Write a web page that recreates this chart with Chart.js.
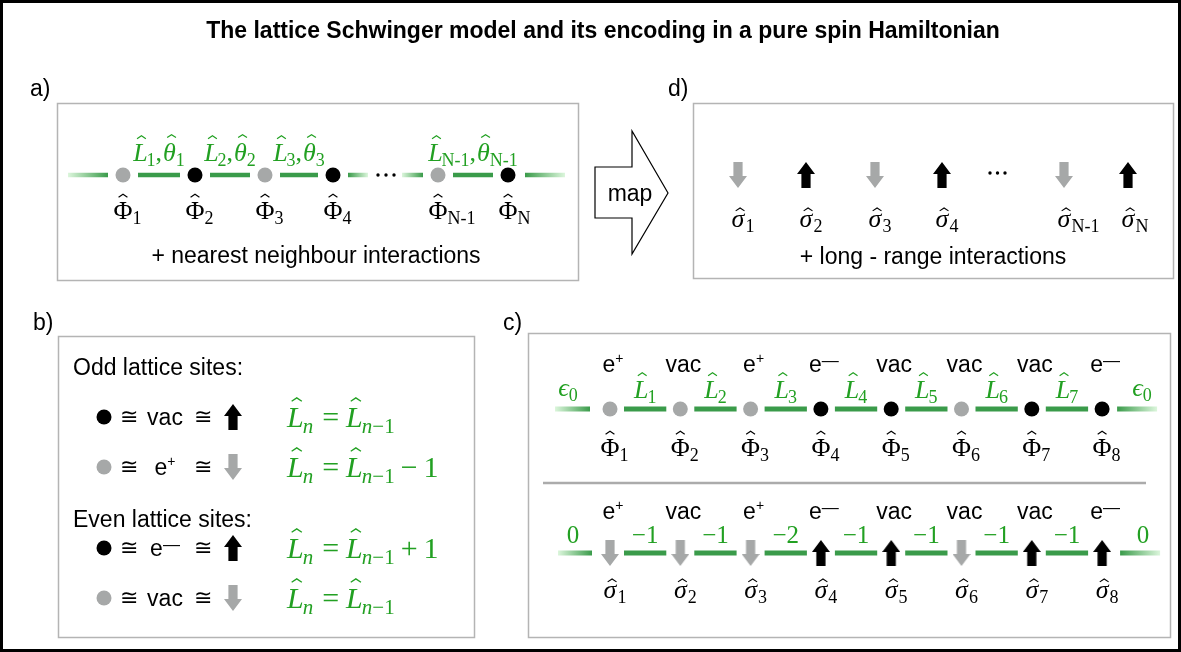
<!DOCTYPE html>
<html><head><meta charset="utf-8">
<script src="https://cdn.jsdelivr.net/npm/chart.js@4.4.0/dist/chart.umd.min.js"></script>
<style>html,body{margin:0;padding:0;background:#fff;}canvas{display:block;}</style>
</head><body>
<canvas id="c" width="1181" height="652"></canvas>
<script>
// ---------------- DATA ----------------
const titleText = 'The lattice Schwinger model and its encoding in a pure spin Hamiltonian';
const panelLetters = ['a)', 'b)', 'c)', 'd)'];
// panel a: lattice sites and links
const siteSubsA = ['1', '2', '3', '4', 'N-1', 'N'];
const siteColorsA = ['gray', 'black', 'gray', 'black', 'gray', 'black'];
const linkSubsA = ['1', '2', '3', 'N-1'];
const linkStartA = [0, 1, 2, 4];
const captionA = '+ nearest neighbour interactions';
// panel d: spins
const spinSubsD = ['1', '2', '3', '4', 'N-1', 'N'];
const spinsD = ['down', 'up', 'down', 'up', 'down', 'up'];
const captionD = '+ long - range interactions';
const mapLabel = 'map';
// panel b: mapping rules
const ruleHeaders = ['Odd lattice sites:', 'Even lattice sites:'];
const ruleSites = ['black', 'gray', 'black', 'gray'];
const ruleParticles = ['vac', 'e+', 'e−', 'vac'];
const ruleSpins = ['up', 'down', 'up', 'down'];
const ruleShifts = [0, -1, 1, 0];
// panel c: example configuration
const siteSubsC = ['1', '2', '3', '4', '5', '6', '7', '8'];
const particlesC = ['e+', 'vac', 'e+', 'e−', 'vac', 'vac', 'vac', 'e−'];
const siteColorsC = ['gray', 'gray', 'gray', 'black', 'black', 'gray', 'black', 'black'];
const spinsC = ['down', 'down', 'down', 'up', 'up', 'down', 'up', 'up'];
const linkSubsC = ['1', '2', '3', '4', '5', '6', '7'];
const electricFieldC = [0, -1, -1, -2, -1, -1, -1, -1, 0];

// ---------------- LAYOUT / STYLE ----------------
const W = 1181, H = 652;
const GREEN_LINE = '#3a9b4a', GREEN_LIGHT = '#dcf6dc', GREEN_TEXT = '#22a022';
const GRAY = '#a6a8a8', BLACK = '#000000', BOX = '#b4b4b4';
const SERIF = '"Liberation Serif","DejaVu Serif",serif';
const SANS = '"Liberation Sans",Arial,sans-serif';
const COLORS = {gray: GRAY, black: BLACK};
const MS = 26;   // math font size
const TS = 23;   // text font size
const LA = {x: [123, 195, 265, 333, 438, 508], y: 175, gap: 15};
const LD = {x: [738, 806, 875, 942, 1064, 1128], y: 175};
const LC = {x0: 610, dx: 70.3, yTop: 409, yBot: 553, gap: 14};
const xC = siteSubsC.map((_, i) => LC.x0 + i * LC.dx);
const LB = {dotX: 104, cong1X: 129, partX: 165, cong2X: 203, arrowX: 233, formX: 287,
            rowY: [417, 467, 548, 598], headY: [375, 527], headX: 73};

function arrowImg(dir, color) {
  const w = 18, h = 26, hd = 12, sh = 4.6;
  const c = document.createElement('canvas'); c.width = w; c.height = h;
  const g = c.getContext('2d'); g.fillStyle = color; g.beginPath();
  if (dir === 'up') {
    g.moveTo(w / 2, 0); g.lineTo(w, hd); g.lineTo(w / 2 + sh, hd); g.lineTo(w / 2 + sh, h);
    g.lineTo(w / 2 - sh, h); g.lineTo(w / 2 - sh, hd); g.lineTo(0, hd);
  } else {
    g.moveTo(w / 2, h); g.lineTo(w, h - hd); g.lineTo(w / 2 + sh, h - hd); g.lineTo(w / 2 + sh, 0);
    g.lineTo(w / 2 - sh, 0); g.lineTo(w / 2 - sh, h - hd); g.lineTo(0, h - hd);
  }
  g.closePath(); g.fill(); return c;
}
const ARROWS = {up: arrowImg('up', BLACK), down: arrowImg('down', GRAY)};

// ---------------- DATASETS ----------------
const datasets = [];
function toPx(xs, v) {
  const p = xs ? xs.getPixelForValue(v) : NaN;
  return isFinite(p) ? p : v;
}
function grad(c, x0, x1, fade) {
  const ch = c.chart, xs = ch.scales && ch.scales.x;
  const p0 = toPx(xs, x0), p1 = toPx(xs, x1);
  const g = ch.ctx.createLinearGradient(p0, 0, p1, 0);
  g.addColorStop(0, fade === 'in' ? GREEN_LIGHT : GREEN_LINE);
  g.addColorStop(1, fade === 'in' ? GREEN_LINE : GREEN_LIGHT);
  return g;
}
function seg(x0, x1, y, fade, bw) {
  datasets.push({data: [{x: x0, y}, {x: x1, y}], showLine: true, borderWidth: bw || 5, pointRadius: 0,
    borderCapStyle: 'butt', borderColor: fade ? (c) => grad(c, x0, x1, fade) : GREEN_LINE});
}
function dots(xs, y, cols) {
  datasets.push({data: xs.map(x => ({x, y})), showLine: false, pointRadius: 7.5, pointBorderWidth: 0,
    pointBackgroundColor: cols.map(k => COLORS[k])});
}
function arrows(xs, y, dirs) {
  datasets.push({data: xs.map(x => ({x, y})), showLine: false, pointRadius: 10,
    pointStyle: dirs.map(d => ARROWS[d])});
}
// panel a
dots(LA.x, LA.y, siteColorsA);
linkStartA.forEach(i => seg(LA.x[i] + LA.gap, LA.x[i + 1] - LA.gap, LA.y, null, 4.5));
seg(LA.x[0] - 55, LA.x[0] - 15, LA.y, 'in', 4.5);
seg(LA.x[3] + 15, LA.x[3] + 35, LA.y, 'out', 4.5);
seg(LA.x[4] - 36, LA.x[4] - 15, LA.y, 'in', 4.5);
seg(LA.x[5] + 17, LA.x[5] + 57, LA.y, 'out', 4.5);
// panel d
arrows(LD.x, LD.y, spinsD);
// panel c top
dots(xC, LC.yTop, siteColorsC);
linkSubsC.forEach((_, i) => seg(xC[i] + LC.gap, xC[i + 1] - LC.gap, LC.yTop));
seg(xC[0] - 55, xC[0] - 20, LC.yTop, 'in');
seg(xC[7] + 15, xC[7] + 55, LC.yTop, 'out');
// panel c bottom
arrows(xC, LC.yBot, spinsC);
linkSubsC.forEach((_, i) => seg(xC[i] + LC.gap, xC[i + 1] - LC.gap, LC.yBot));
seg(xC[0] - 52, xC[0] - 18, LC.yBot, 'in');
seg(xC[7] + 18, xC[7] + 58, LC.yBot, 'out');
// panel b
ruleSites.forEach((s, i) => dots([LB.dotX], LB.rowY[i], [s]));
ruleSpins.forEach((s, i) => arrows([LB.arrowX], LB.rowY[i], [s]));

// ---------------- TEXT HELPERS ----------------
function fontStr(r) { return (r.it ? 'italic ' : '') + (r.b ? 'bold ' : '') + r.s + 'px ' + (r.sans ? SANS : SERIF); }
function runsWidth(ctx, runs) { let w = 0; for (const r of runs) { ctx.font = fontStr(r); w += ctx.measureText(r.t).width + (r.k || 0); } return w; }
function drawRuns(ctx, runs, x, y, align, color) {
  let cx;
  if (align === 'first') { ctx.font = fontStr(runs[0]); cx = x - ctx.measureText(runs[0].t).width / 2; }
  else { const w = runsWidth(ctx, runs); cx = align === 'center' ? x - w / 2 : (align === 'right' ? x - w : x); }
  ctx.fillStyle = color; ctx.strokeStyle = color; ctx.textAlign = 'left'; ctx.textBaseline = 'alphabetic';
  for (const r of runs) {
    ctx.font = fontStr(r);
    const tw = ctx.measureText(r.t).width;
    const by = y + (r.dy || 0);
    ctx.fillText(r.t, cx, by);
    if (r.hat) {
      const hw = r.s * 0.34, hh = r.s * 0.11;
      const hx = cx + tw / 2 + (r.it ? r.s * 0.08 : 0) + (r.hx || 0);
      const hy = by - r.s * r.hat;
      ctx.lineWidth = Math.max(1, r.s * 0.045); ctx.lineJoin = 'miter';
      ctx.beginPath(); ctx.moveTo(hx - hw / 2, hy); ctx.lineTo(hx, hy - hh); ctx.lineTo(hx + hw / 2, hy); ctx.stroke();
    }
    cx += tw + (r.k || 0);
  }
}
function subRuns(sub, s) {
  const ss = Math.round(s * 0.7), dy = s * 0.2;
  if (sub === 'n') return [{t: 'n', s: ss, it: true, dy}];
  if (sub === 'n−1') return [{t: 'n', s: ss, it: true, dy}, {t: '−1', s: ss, dy}];
  return [{t: sub, s: ss, dy}];
}
const PHI = (sub, s) => [{t: 'Φ', s, hat: 0.84}].concat(subRuns(sub, s));
const SIG = (sub, s) => [{t: 'σ', s, it: true, hat: 0.62, k: 1}].concat(subRuns(sub, s));
const LOP = (sub, s) => [{t: 'L', s, it: true, hat: 0.86, hx: -1, k: -1}].concat(subRuns(sub, s));
const THE = (sub, s) => [{t: 'θ', s, it: true, hat: 0.9}].concat(subRuns(sub, s));
function particleRuns(p, s) {
  if (p === 'e+') return [{t: 'e', s, sans: true}, {t: '+', s: Math.round(s * 0.6), sans: true, dy: -s * 0.38}];
  if (p === 'e−') return [{t: 'e', s, sans: true}, {t: '—', s: Math.round(s * 0.72), sans: true, dy: -s * 0.27}];
  return [{t: p, s, sans: true}];
}

// ---------------- PLUGINS ----------------
const frame = {
  id: 'frame',
  beforeDraw(chart) {
    const ctx = chart.ctx; ctx.save();
    ctx.fillStyle = '#fff'; ctx.fillRect(0, 0, W, H);
    ctx.strokeStyle = BOX; ctx.lineWidth = 1.5;
    [[57, 103, 521, 177], [693, 103, 480, 175], [58, 336, 416, 301], [528, 333, 642, 304]].forEach(r => ctx.strokeRect(r[0] + .5, r[1] + .5, r[2], r[3]));
    ctx.strokeStyle = '#ababab'; ctx.lineWidth = 2.5;
    ctx.beginPath(); ctx.moveTo(543, 483); ctx.lineTo(1146, 483); ctx.stroke();
    ctx.strokeStyle = '#000'; ctx.lineWidth = 3; ctx.strokeRect(1.5, 1.5, W - 3, H - 3);
    // map arrow
    ctx.lineWidth = 1.2; ctx.fillStyle = '#fff'; ctx.beginPath();
    [[595, 167], [632, 167], [632, 131], [668, 193], [632, 254], [632, 218], [595, 218]].forEach((p, i) => i ? ctx.lineTo(p[0], p[1]) : ctx.moveTo(p[0], p[1]));
    ctx.closePath(); ctx.fill(); ctx.stroke();
    ctx.restore();
  },
  afterDatasetsDraw(chart) {
    const ctx = chart.ctx; ctx.save();
    const xs = chart.scales.x, ys = chart.scales.y;
    const px = v => xs.getPixelForValue(v), py = v => ys.getPixelForValue(v);
    // title and panel letters
    ctx.fillStyle = BLACK; ctx.textBaseline = 'alphabetic';
    ctx.font = 'bold 23px ' + SANS; ctx.textAlign = 'center';
    ctx.fillText(titleText, 603, 38);
    ctx.font = TS + 'px ' + SANS; ctx.textAlign = 'left';
    [[30, 96], [33, 330], [503, 330], [668, 96]].forEach((p, i) => ctx.fillText(panelLetters[i], p[0], p[1]));
    // map label
    ctx.textAlign = 'center'; ctx.fillText(mapLabel, 630, 201);
    // captions
    ctx.fillText(captionA, 316, 263);
    ctx.fillText(captionD, 933, 264);
    // panel a labels
    siteSubsA.forEach((s, i) => drawRuns(ctx, PHI(s, MS), px(LA.x[i]), 219, 'first', BLACK));
    linkSubsA.forEach((s, k) => {
      const i = linkStartA[k];
      const runs = LOP(s, MS).concat([{t: ',', s: MS, k: 1}]).concat(THE(s, MS));
      drawRuns(ctx, runs, px((LA.x[i] + LA.x[i + 1]) / 2), 161, 'center', GREEN_TEXT);
    });
    ctx.fillStyle = BLACK;
    [[378, 175], [386, 175], [394, 175], [990, 173], [997.5, 173], [1005, 173]].forEach(p => { ctx.beginPath(); ctx.arc(px(p[0]), py(p[1]), 1.7, 0, 7); ctx.fill(); });
    // panel d labels
    spinSubsD.forEach((s, i) => drawRuns(ctx, SIG(s, MS), px(LD.x[i]), 227, 'first', BLACK));
    // panel c top
    particlesC.forEach((p, i) => drawRuns(ctx, particleRuns(p, TS), px(xC[i] + 3), 372, 'center', BLACK));
    linkSubsC.forEach((s, i) => drawRuns(ctx, LOP(s, MS), px((xC[i] + xC[i + 1]) / 2), 398, 'center', GREEN_TEXT));
    drawRuns(ctx, [{t: 'ϵ', s: MS, it: true}].concat(subRuns('0', MS)), px(xC[0] - 42), 396, 'center', GREEN_TEXT);
    drawRuns(ctx, [{t: 'ϵ', s: MS, it: true}].concat(subRuns('0', MS)), px(xC[7] + 40), 396, 'center', GREEN_TEXT);
    siteSubsC.forEach((s, i) => drawRuns(ctx, PHI(s, MS), px(xC[i]), 456, 'first', BLACK));
    // panel c bottom
    particlesC.forEach((p, i) => drawRuns(ctx, particleRuns(p, TS), px(xC[i] + 3), 519, 'center', BLACK));
    electricFieldC.forEach((v, i) => {
      let cx;
      if (i === 0) cx = xC[0] - 37; else if (i === electricFieldC.length - 1) cx = xC[7] + 41; else cx = (xC[i - 1] + xC[i]) / 2;
      const t = v < 0 ? '−' + (-v) : String(v);
      drawRuns(ctx, [{t, s: 25}], px(cx), 543, 'center', GREEN_TEXT);
    });
    siteSubsC.forEach((s, i) => drawRuns(ctx, SIG(s, MS), px(xC[i]), 598, 'first', BLACK));
    // panel b
    ctx.fillStyle = BLACK; ctx.textAlign = 'left'; ctx.font = TS + 'px ' + SANS;
    ruleHeaders.forEach((h, i) => ctx.fillText(h, LB.headX, LB.headY[i]));
    LB.rowY.forEach((y, i) => {
      ctx.fillStyle = BLACK; ctx.textAlign = 'center'; ctx.font = '22px ' + SERIF;
      ctx.fillText('≅', px(LB.cong1X), py(y) + 7); ctx.fillText('≅', px(LB.cong2X), py(y) + 7);
      drawRuns(ctx, particleRuns(ruleParticles[i], TS), px(LB.partX), py(y) + 8, 'center', BLACK);
      const f = LOP('n', 30);
      f[f.length - 1].k = 9;
      f.push({t: '=', s: 30, k: 7});
      LOP('n−1', 30).forEach(r => f.push(r));
      if (ruleShifts[i] !== 0) {
        f[f.length - 1].k = 6;
        f.push({t: ruleShifts[i] > 0 ? '+' : '−', s: 30, k: 6});
        f.push({t: String(Math.abs(ruleShifts[i])), s: 30});
      }
      drawRuns(ctx, f, px(LB.formX), py(y) + 10, 'left', GREEN_TEXT);
    });
    ctx.restore();
  }
};

new Chart(document.getElementById('c'), {
  type: 'scatter',
  data: {datasets},
  options: {
    responsive: false, animation: false, devicePixelRatio: 1, events: [],
    layout: {padding: 0, autoPadding: false},
    plugins: {legend: {display: false}, tooltip: {enabled: false}},
    scales: {
      x: {type: 'linear', min: 0, max: W, display: false},
      y: {type: 'linear', min: 0, max: H, reverse: true, display: false}
    }
  },
  plugins: [frame]
});
</script>
</body></html>
